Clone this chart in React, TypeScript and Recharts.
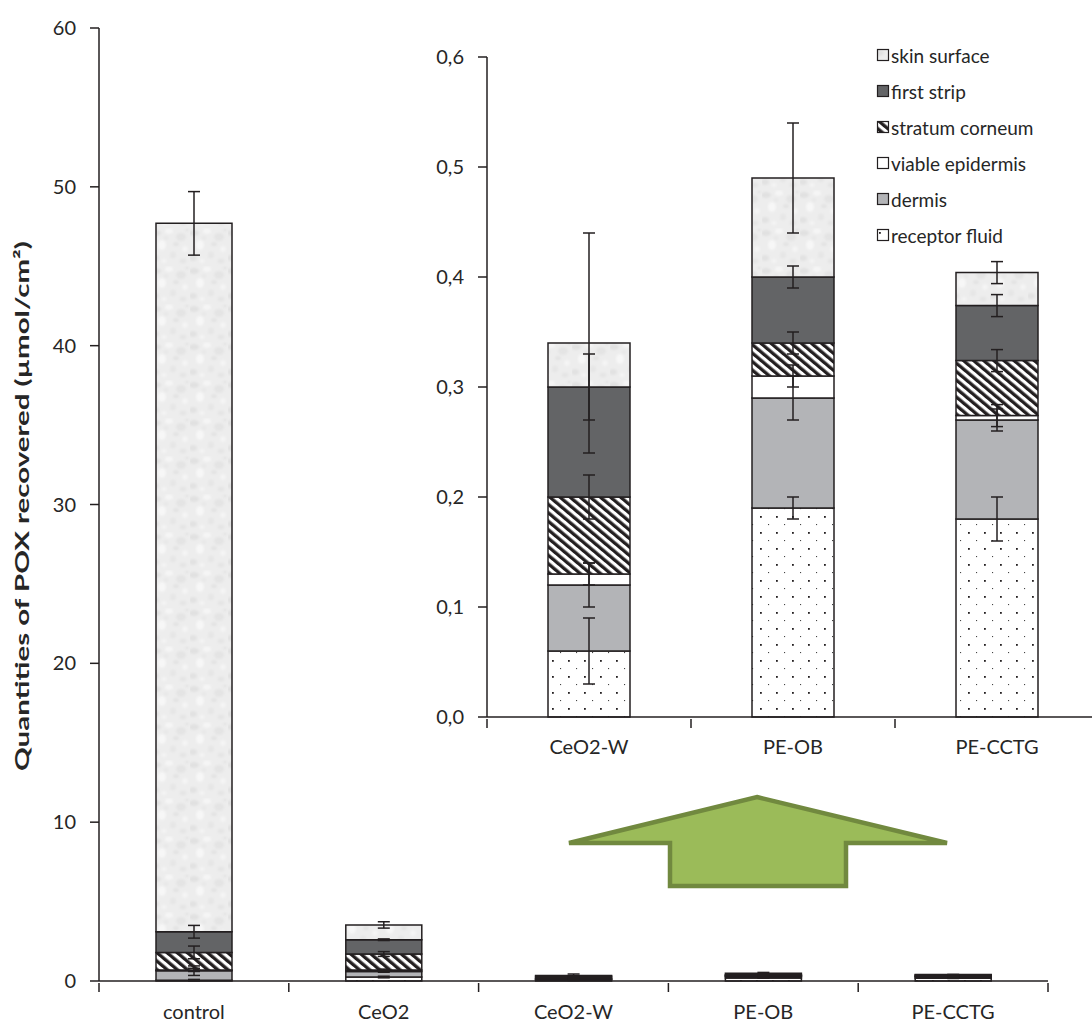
import React from 'react';
import { BarChart, Bar, XAxis, YAxis, ErrorBar } from 'recharts';

// ---------- data ----------
const categories = ['control', 'CeO2', 'CeO2-W', 'PE-OB', 'PE-CCTG'];
const insetCategories = ['CeO2-W', 'PE-OB', 'PE-CCTG'];

const receptorFluid = [0.05, 0.25, 0.06, 0.19, 0.18];
const dermis = [0.6, 0.35, 0.06, 0.1, 0.09];
const viableEpidermis = [0.05, 0.1, 0.01, 0.02, 0.004];
const stratumCorneum = [1.1, 1.0, 0.07, 0.03, 0.05];
const firstStrip = [1.3, 0.9, 0.1, 0.06, 0.05];
const skinSurface = [44.6, 0.93, 0.04, 0.09, 0.03];

const receptorFluidErr = [0.05, 0.05, 0.03, 0.01, 0.02];
const dermisErr = [0.3, 0.05, 0.02, 0.02, 0.01];
const viableEpidermisErr = [0.1, 0.05, 0.01, 0.01, 0.01];
const stratumCorneumErr = [0.4, 0.15, 0.02, 0.01, 0.01];
const firstStripErr = [0.4, 0.05, 0.03, 0.01, 0.01];
const skinSurfaceErr = [2.0, 0.2, 0.1, 0.05, 0.01];

const mainYTicks = [0, 10, 20, 30, 40, 50, 60];
const insetYTicks = [0, 0.1, 0.2, 0.3, 0.4, 0.5, 0.6];
const yAxisTitle = 'Quantities of POX recovered (µmol/cm²)';

// ---------- styles ----------
const INK = '#231F20';
const TEXT = '#262626';
const FONT = 'Lato, "Open Sans", sans-serif';

const series = [
  { key: 'receptor', name: 'receptor fluid', values: receptorFluid, errors: receptorFluidErr, fill: 'url(#pat-dots)' },
  { key: 'dermis', name: 'dermis', values: dermis, errors: dermisErr, fill: '#B3B4B7' },
  { key: 'viable', name: 'viable epidermis', values: viableEpidermis, errors: viableEpidermisErr, fill: '#FFFFFF' },
  { key: 'sc', name: 'stratum corneum', values: stratumCorneum, errors: stratumCorneumErr, fill: 'url(#pat-stripes)' },
  { key: 'strip', name: 'first strip', values: firstStrip, errors: firstStripErr, fill: '#636466' },
  { key: 'skin', name: 'skin surface', values: skinSurface, errors: skinSurfaceErr, fill: 'url(#pat-skin)' },
];

const mainRows = categories.map((c, i) => {
  const row: any = { category: c };
  series.forEach((s) => {
    row[s.key] = s.values[i];
    row[s.key + 'Err'] = s.errors[i];
  });
  return row;
});
const insetRows = mainRows.filter((r) => insetCategories.includes(r.category));

const CatTick = (props: any) => {
  const { x, y, payload, index, count, half, fontSize, gap } = props;
  return (
    <g>
      <line x1={x - half} x2={x - half} y1={y} y2={y + 9} stroke={INK} strokeWidth={1.5} />
      {index === count - 1 && (
        <line x1={x + half} x2={x + half} y1={y} y2={y + 9} stroke={INK} strokeWidth={1.5} />
      )}
      <text x={x} y={y + gap} textAnchor="middle" fill={TEXT} fontSize={fontSize} fontFamily={FONT}>
        {payload.value}
      </text>
    </g>
  );
};

const renderBars = (barSize: number) =>
  series.map((s) => (
    <Bar
      key={s.key}
      dataKey={s.key}
      name={s.name}
      stackId="a"
      fill={s.fill}
      stroke={INK}
      strokeWidth={1.5}
      barSize={barSize}
      isAnimationActive={false}
    >
      <ErrorBar dataKey={s.key + 'Err'} width={6} stroke={INK} strokeWidth={1.5} isAnimationActive={false} />
    </Bar>
  ));

// texture blobs for the mottled "skin surface" fill: cx, cy, rx, ry, colour
const skinBlobs = [
  [4, 5, 5, 3, '#E1E1E1'],
  [17, 3, 4, 2.5, '#F6F6F6'],
  [29, 9, 5, 4, '#E4E4E4'],
  [10, 17, 4, 5, '#F7F7F7'],
  [3, 30, 4, 3, '#E2E2E2'],
  [21, 27, 3, 3.5, '#E6E6E6'],
  [14, 10, 2.5, 2, '#E8E8E8'],
  [33, 21, 2.5, 3, '#F5F5F5'],
  [24, 16, 3, 2, '#E3E3E3'],
  [31, 33, 3.5, 2.5, '#E5E5E5'],
  [12, 33, 2.5, 2, '#F4F4F4'],
  [35, 2, 2, 2, '#E6E6E6'],
];

export default function App() {
  const mainBand = (1092 - 44 - 99) / categories.length;
  const insetBand = (690 - 11 - 67) / insetCategories.length;
  return (
    <div
      style={{
        position: 'absolute',
        left: 0,
        top: 0,
        width: 1092,
        height: 1027,
        overflow: 'hidden',
        background: '#fff',
        fontFamily: FONT,
      }}
    >
      <svg width={0} height={0} style={{ position: 'absolute' }}>
        <defs>
          <filter id="soft" x="-20%" y="-20%" width="140%" height="140%">
            <feGaussianBlur stdDeviation={1.2} />
          </filter>
          <pattern id="pat-dots" patternUnits="userSpaceOnUse" width={16} height={16}>
            <rect width={16} height={16} fill="#fff" />
            <rect x={4} y={4} width={1.8} height={1.8} fill={INK} />
            <rect x={12} y={12} width={1.1} height={1.1} fill="#444" />
          </pattern>
          <pattern
            id="pat-stripes"
            patternUnits="userSpaceOnUse"
            width={6.5}
            height={6.5}
            patternTransform="rotate(-50)"
          >
            <rect width={6.5} height={6.5} fill="#fff" />
            <rect width={3.3} height={6.5} fill={INK} />
          </pattern>
          <pattern id="pat-skin" patternUnits="userSpaceOnUse" width={38} height={38}>
            <rect width={38} height={38} fill="#EDEDED" />
            <g filter="url(#soft)">
              {skinBlobs.map((b, i) => (
                <ellipse key={i} cx={b[0] as number} cy={b[1] as number} rx={b[2] as number} ry={b[3] as number} fill={b[4] as string} />
              ))}
            </g>
          </pattern>
        </defs>
      </svg>

      {/* main chart */}
      <div style={{ position: 'absolute', left: 0, top: 0 }}>
        <BarChart width={1092} height={1027} data={mainRows} margin={{ top: 28, right: 44, bottom: 0, left: 0 }}>
          <XAxis
            dataKey="category"
            height={46}
            tickSize={0}
            tickLine={false}
            interval={0}
            axisLine={{ stroke: INK, strokeWidth: 1.5 }}
            tick={<CatTick count={categories.length} half={mainBand / 2} fontSize={20} gap={36} />}
          />
          <YAxis
            width={99}
            type="number"
            domain={[0, 60]}
            ticks={mainYTicks}
            interval={0}
            tickSize={9}
            tickMargin={14}
            axisLine={{ stroke: INK, strokeWidth: 1.5 }}
            tickLine={{ stroke: INK, strokeWidth: 1.5 }}
            tick={{ fill: TEXT, fontSize: 20, fontFamily: FONT }}
          />
          {renderBars(76)}
        </BarChart>
      </div>

      {/* y axis title */}
      <svg width={60} height={1027} style={{ position: 'absolute', left: 0, top: 0 }}>
        <text
          transform="translate(22,506) scale(1,1.55) rotate(-90)"
          textAnchor="middle"
          dominantBaseline="central"
          fontFamily={FONT}
          fontWeight="bold"
          fontSize={19}
          fill={TEXT}
        >
          {yAxisTitle}
        </text>
      </svg>

      {/* green arrow */}
      <svg width={1092} height={1027} style={{ position: 'absolute', left: 0, top: 0 }}>
        <polygon
          points="757,797 947,843 846,843 846,886 670,886 670,843 569,843"
          fill="#9BBB59"
          stroke="#71893F"
          strokeWidth={4.5}
          strokeLinejoin="miter"
        />
      </svg>

      {/* inset chart */}
      <div style={{ position: 'absolute', left: 420, top: 0 }}>
        <BarChart width={690} height={760} data={insetRows} margin={{ top: 57, right: 11, bottom: 0, left: 0 }}>
          <XAxis
            dataKey="category"
            height={43}
            tickSize={0}
            tickLine={false}
            interval={0}
            axisLine={{ stroke: INK, strokeWidth: 1.5 }}
            tick={<CatTick count={insetCategories.length} half={insetBand / 2} fontSize={20} gap={35} />}
          />
          <YAxis
            width={67}
            type="number"
            domain={[0, 0.6]}
            ticks={insetYTicks}
            interval={0}
            tickSize={9}
            tickMargin={14}
            axisLine={{ stroke: INK, strokeWidth: 1.5 }}
            tickLine={{ stroke: INK, strokeWidth: 1.5 }}
            tick={{ fill: TEXT, fontSize: 20, fontFamily: FONT }}
            tickFormatter={(v: number) => v.toFixed(1).replace('.', ',')}
          />
          {renderBars(82)}
        </BarChart>
      </div>

      {/* legend */}
      <div style={{ position: 'absolute', left: 875, top: 37 }}>
        {[...series].reverse().map((s) => (
          <div key={s.key} style={{ display: 'flex', alignItems: 'center', height: 36 }}>
            <svg width={16} height={14}>
              <rect x={2.5} y={1.5} width={11} height={11} fill={s.fill} stroke={INK} strokeWidth={1.2} />
            </svg>
            <span style={{ fontSize: 19, color: TEXT, fontFamily: FONT, whiteSpace: 'nowrap' }}>{s.name}</span>
          </div>
        ))}
      </div>
    </div>
  );
}
